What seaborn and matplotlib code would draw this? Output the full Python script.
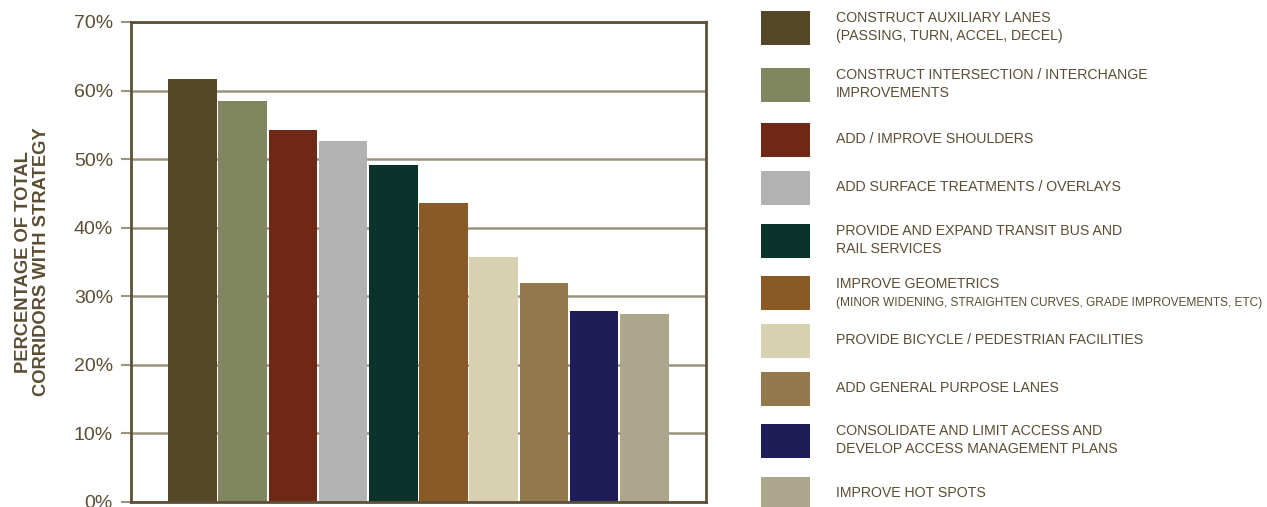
import matplotlib
matplotlib.use("Agg")
import matplotlib.pyplot as plt
from matplotlib.patches import Rectangle
import seaborn as sns
import pandas as pd

# Strategy categories (legend text) and share of corridors using each one
strategies = [
    "CONSTRUCT AUXILIARY LANES\n(PASSING, TURN, ACCEL, DECEL)",
    "CONSTRUCT INTERSECTION / INTERCHANGE\nIMPROVEMENTS",
    "ADD / IMPROVE SHOULDERS",
    "ADD SURFACE TREATMENTS / OVERLAYS",
    "PROVIDE AND EXPAND TRANSIT BUS AND\nRAIL SERVICES",
    "IMPROVE GEOMETRICS",
    "PROVIDE BICYCLE / PEDESTRIAN FACILITIES",
    "ADD GENERAL PURPOSE LANES",
    "CONSOLIDATE AND LIMIT ACCESS AND\nDEVELOP ACCESS MANAGEMENT PLANS",
    "IMPROVE HOT SPOTS",
]
subnotes = ["", "", "", "", "",
            "(MINOR WIDENING, STRAIGHTEN CURVES, GRADE IMPROVEMENTS, ETC)",
            "", "", "", ""]
percent = [61.7, 58.5, 54.3, 52.6, 49.1, 43.6, 35.7, 31.9, 27.9, 27.4]
colors = ["#544828", "#7f8660", "#6e2815", "#b2b2b2", "#0b332b",
          "#8a5a26", "#d7d0b1", "#93784e", "#1e1d58", "#aba68c"]
yticks = [0, 10, 20, 30, 40, 50, 60, 70]
ytick_labels = [f"{t}%" for t in yticks]

TEXT = "#5a4d33"
FRAME = "#5c5038"
GRID = "#9a947e"

sns.set_theme(style="white")
plt.rcParams["font.family"] = ["Liberation Sans", "DejaVu Sans"]

W, H = 1267, 507
fig = plt.figure(figsize=(W / 100, H / 100), dpi=100)
ax = fig.add_axes([131 / W, 5 / H, 575 / W, 480 / H])

df = pd.DataFrame({"strategy": strategies, "percent": percent})
sns.barplot(data=df, x="strategy", y="percent", hue="strategy",
            palette=colors, legend=False, width=0.97, saturation=1,
            linewidth=0, ax=ax)

ax.set_xlim(-1.225, 10.23)
ax.set_ylim(0, 70)
ax.set_yticks(yticks)
ax.set_yticklabels(ytick_labels)
ax.set_xticks([])
ax.set_xlabel("")
ax.set_ylabel("PERCENTAGE OF TOTAL\nCORRIDORS WITH STRATEGY",
              fontsize=13.2, fontweight="bold", color=TEXT, labelpad=17,
              linespacing=1.1)
ax.yaxis.grid(True, color=GRID, linewidth=1.8)
ax.set_axisbelow(True)
ax.tick_params(axis="y", which="major", length=7, width=1.5, color=GRID,
               labelsize=14, labelcolor=TEXT, pad=6, left=True)
for side in ["left", "right", "top", "bottom"]:
    ax.spines[side].set_visible(True)
    ax.spines[side].set_color(FRAME)
    ax.spines[side].set_linewidth(2)

# Legend column: swatch + label for each strategy
patch_tops = [11, 68, 123, 171, 224, 276, 324, 372, 424, 477]
sw_x, sw_w, sw_h = 761, 49, 34
txt_x = 836
for top, label, note, col in zip(patch_tops, strategies, subnotes, colors):
    fig.add_artist(Rectangle((sw_x / W, 1 - (top + sw_h) / H), sw_w / W, sw_h / H,
                             transform=fig.transFigure, facecolor=col,
                             edgecolor="none"))
    cy = top + sw_h / 2
    if note:
        fig.text(txt_x / W, 1 - (cy - 9) / H, label, fontsize=10.2, color=TEXT,
                 ha="left", va="center")
        fig.text(txt_x / W, 1 - (cy + 10) / H, note, fontsize=8.6, color=TEXT,
                 ha="left", va="center")
    else:
        fig.text(txt_x / W, 1 - (cy - 1) / H, label, fontsize=10.2, color=TEXT,
                 ha="left", va="center", linespacing=1.35)

fig.savefig("out.png", dpi=100, facecolor="white")
